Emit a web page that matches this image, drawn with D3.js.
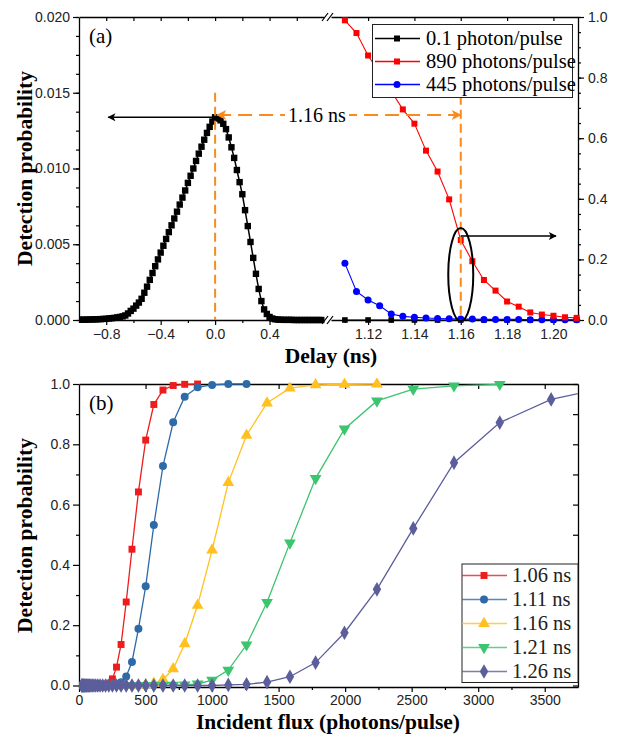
<!DOCTYPE html>
<html><head><meta charset="utf-8">
<script src="https://cdn.jsdelivr.net/npm/d3@7"></script>
<style>
body{margin:0;background:#fff;}
svg{display:block;}
.tick text{font-family:"Liberation Sans",Arial,sans-serif;font-size:14px;fill:#222;}
.domain{stroke:#000;stroke-width:1.3px;}
.tick line{stroke:#000;stroke-width:1.2px;}
</style>
</head><body>
<svg id="c" width="621" height="734"></svg>
<script>
// ---------- Panel (a) data ----------
const delayLeft = [-1.00,-0.98,-0.96,-0.94,-0.92,-0.90,-0.88,-0.86,-0.84,-0.82,-0.80,-0.78,-0.76,-0.74,-0.72,-0.70,-0.68,-0.66,-0.64,-0.62,-0.60,-0.58,-0.56,-0.54,-0.52,-0.50,-0.48,-0.46,-0.44,-0.42,-0.40,-0.38,-0.36,-0.34,-0.32,-0.30,-0.28,-0.26,-0.24,-0.22,-0.20,-0.18,-0.16,-0.14,-0.12,-0.10,-0.08,-0.06,-0.04,-0.02,0.00,0.02,0.04,0.06,0.08,0.10,0.12,0.14,0.16,0.18,0.20,0.22,0.24,0.26,0.28,0.30,0.32,0.34,0.36,0.38,0.40,0.42,0.44,0.46,0.48,0.50,0.52,0.54,0.56,0.58,0.60,0.62,0.64,0.66,0.68,0.70,0.72,0.74,0.76,0.78];
const probSingle = [0.00002,0.00002,0.00002,0.00003,0.00003,0.00004,0.00004,0.00005,0.00006,0.00007,0.00008,0.00010,0.00012,0.00014,0.00017,0.00020,0.00024,0.00030,0.00043,0.00060,0.00075,0.00095,0.00115,0.00140,0.00180,0.00220,0.00265,0.00310,0.00355,0.00400,0.00445,0.00490,0.00535,0.00580,0.00625,0.00670,0.00715,0.00762,0.00808,0.00855,0.00905,0.00952,0.01000,0.01050,0.01098,0.01144,0.01190,0.01235,0.01275,0.01310,0.01338,0.01330,0.01318,0.01295,0.01260,0.01205,0.01140,0.01070,0.00990,0.00910,0.00830,0.00725,0.00620,0.00515,0.00410,0.00305,0.00205,0.00125,0.00070,0.00040,0.00020,0.00010,0.00005,0.00003,0.00002,0.00001,0.00001,0.00001,0.00001,0,0,0,0,0,0,0,0,0,0,0];
const delayRightSingle = [1.11,1.12,1.13,1.14,1.15,1.16,1.17,1.18,1.19,1.20,1.21];
const probSingleRight = [0,0,0,0,0,0,0,0,0,0,0];
const delayRight = [1.110,1.115,1.120,1.125,1.130,1.135,1.140,1.145,1.150,1.155,1.160,1.165,1.170,1.175,1.180,1.185,1.190,1.195,1.200,1.205,1.210];
const prob890 = [0.989,0.947,0.873,0.815,0.755,0.695,0.648,0.559,0.490,0.398,0.264,0.194,0.132,0.097,0.061,0.044,0.025,0.018,0.014,0.009,0.007];
const prob445 = [0.187,0.094,0.066,0.047,0.020,0.012,0.009,0.0066,0.005,0.004,0.003,0.003,0.002,0.002,0.002,0.002,0.001,0.001,0.001,0.001,0.001];
const legendA = ["0.1 photon/pulse","890 photons/pulse","445 photons/pulse"];
const ticksLeftX = [-0.8,-0.4,0.0,0.4];
const ticksRightX = [1.12,1.14,1.16,1.18,1.20];

// ---------- Panel (b) data ----------
const flux = [20.0,22.4,25.1,28.2,31.6,35.5,39.8,44.7,50.1,56.2,63.1,70.8,79.4,89.1,100,112.2,125.9,141.3,158.5,177.8,199.5,223.9,251.2,281.8,316.2,354.8,398.1,446.7,501.2,562.3,631.0,707.9,794.3,891.3,1000,1122,1259,1413,1585,1778,1995,2239,2512,2818,3162,3548,3981];
const p106 = [0,0,0,0,0,0,0,0,0,0,0,0,0,0,0,0,0,0,0,0.001,0.003,0.008,0.022,0.061,0.136,0.277,0.452,0.642,0.814,0.932,0.980,0.995,0.999,1.000];
const p111 = [0,0,0,0,0,0,0,0,0,0,0,0,0,0,0,0,0,0,0,0,0,0.001,0.002,0.005,0.011,0.030,0.078,0.188,0.329,0.532,0.728,0.873,0.958,0.989,0.997,1.000,1.000];
const p116 = [0,0,0,0,0,0,0,0,0,0,0,0,0,0,0,0,0,0,0,0,0,0,0,0,0,0,0,0.001,0.003,0.007,0.020,0.055,0.138,0.266,0.449,0.673,0.830,0.937,0.986,0.997,0.999,1.000];
const p121 = [0,0,0,0,0,0,0,0,0,0,0,0,0,0,0,0,0,0,0,0,0,0,0,0,0,0,0,0,0,0,0,0.001,0.002,0.005,0.018,0.051,0.135,0.276,0.473,0.687,0.851,0.944,0.983,0.994,0.999];
const p126 = [0,0,0,0,0,0,0,0,0,0,0,0,0,0,0,0,0,0,0,0,0,0,0,0,0,0,0,0,0,0,0,0,0,0,0.000,0.002,0.004,0.011,0.029,0.076,0.175,0.319,0.521,0.739,0.872,0.949,0.990];
const legendB = ["1.06 ns","1.11 ns","1.16 ns","1.21 ns","1.26 ns"];
const colorsB = ["#ee1c1c","#2f6aa8","#ffc020","#3cc46e","#5c5e9c"];
const symbolsB = [d3.symbolSquare, d3.symbolCircle, d3.symbolTriangle, "tri-down", d3.symbolDiamond];

const svg = d3.select("#c");
const serif = '"Liberation Serif","Times New Roman",serif';
const titleSize = "21.5px";
const legSize = "20.5px";

function sym(type, size){
  if(type==="tri-down") return d3.symbol(d3.symbolTriangle,size)();
  return d3.symbol(type,size)();
}
function drawMarker(g, type, x, y, size, color){
  return g.append("path").attr("d", sym(type,size)).attr("fill",color)
    .attr("transform", `translate(${x},${y})` + (type==="tri-down"?" rotate(180)":""));
}

// ======================= PANEL A =======================
const A = {top:17, bottom:320, left:79, right:578, brkL:324, brkR:331};
const x1 = d3.scaleLinear().domain([-1.0,0.8]).range([A.left,A.brkL]);
const x2 = d3.scaleLinear().domain([1.104,1.2106]).range([A.brkR,A.right]);
const yL = d3.scaleLinear().domain([0,0.020]).range([A.bottom,A.top]);
const yR = d3.scaleLinear().domain([0,1.0]).range([A.bottom,A.top]);

const gA = svg.append("g");
svg.append("defs").html(`
 <clipPath id="clipA1"><rect x="${A.left}" y="${A.top-5}" width="${A.brkL-A.left+3}" height="${A.bottom-A.top+10}"/></clipPath>
 <clipPath id="clipA2"><rect x="${A.brkR-3}" y="${A.top-5}" width="${A.right-A.brkR+6}" height="${A.bottom-A.top+10}"/></clipPath>
 <clipPath id="clipB"><rect x="79" y="378" width="499" height="315"/></clipPath>
 <marker id="ahBlack" viewBox="0 0 10 10" refX="9" refY="5" markerWidth="12" markerHeight="8" markerUnits="userSpaceOnUse" orient="auto"><path d="M0,0 L10,5 L0,10 L2.5,5 z" fill="#000"/></marker>
 <marker id="ahOrange" viewBox="0 0 10 10" refX="9" refY="5" markerWidth="14" markerHeight="10" markerUnits="userSpaceOnUse" orient="auto"><path d="M0,0 L10,5 L0,10 L2.5,5 z" fill="#f98b1c"/></marker>
 <marker id="ahOrangeS" viewBox="0 0 10 10" refX="1" refY="5" markerWidth="14" markerHeight="10" markerUnits="userSpaceOnUse" orient="auto"><path d="M10,0 L0,5 L10,10 L7.5,5 z" fill="#f98b1c"/></marker>
`);

// axes panel A
gA.append("g").attr("transform",`translate(0,${A.bottom})`)
  .call(d3.axisBottom(x1).tickValues([-1.0,-0.6,-0.2,0.2,0.6]).tickSize(3).tickFormat("")).select(".domain").remove();
gA.append("g").attr("transform",`translate(0,${A.bottom})`)
  .call(d3.axisBottom(x1).tickValues(ticksLeftX).tickSize(5).tickSizeOuter(0).tickPadding(4).tickFormat(d3.format(".1f")));
gA.append("g").attr("transform",`translate(0,${A.bottom})`)
  .call(d3.axisBottom(x2).tickValues([1.11,1.13,1.15,1.17,1.19,1.21].filter(v=>v<=1.2106)).tickSize(3).tickFormat("")).select(".domain").remove();
gA.append("g").attr("transform",`translate(0,${A.bottom})`)
  .call(d3.axisBottom(x2).tickValues(ticksRightX).tickSize(5).tickSizeOuter(0).tickPadding(4).tickFormat(d3.format(".2f")));
gA.append("g").attr("transform",`translate(0,${A.top})`)
  .call(d3.axisTop(x1).tickValues([-0.8,-0.6,-0.4,-0.2,0,0.2,0.4,0.6]).tickSize(-4).tickSizeOuter(0).tickFormat(""));
gA.append("g").attr("transform",`translate(0,${A.top})`)
  .call(d3.axisTop(x2).tickValues([1.12,1.14,1.16,1.18,1.20]).tickSize(-4).tickSizeOuter(0).tickFormat(""));
gA.append("g").attr("transform",`translate(${A.left},0)`)
  .call(d3.axisLeft(yL).tickValues(d3.range(0,17).map(i=>i*0.00125)).tickSize(3).tickFormat("")).select(".domain").remove();
gA.append("g").attr("transform",`translate(${A.left},0)`)
  .call(d3.axisLeft(yL).tickValues([0,0.005,0.010,0.015,0.020]).tickSize(6).tickSizeOuter(0).tickPadding(3).tickFormat(d3.format(".3f")));
gA.append("g").attr("transform",`translate(${A.right},0)`)
  .call(d3.axisRight(yR).tickValues(d3.range(0,21).map(i=>i*0.05)).tickSize(3).tickFormat("")).select(".domain").remove();
gA.append("g").attr("transform",`translate(${A.right},0)`)
  .call(d3.axisRight(yR).tickValues([0,0.2,0.4,0.6,0.8,1.0]).tickSize(6).tickSizeOuter(0).tickPadding(4).tickFormat(d3.format(".1f")));

// break marks
[A.bottom, A.top].forEach(yy=>{
  gA.append("rect").attr("x",A.brkL+0.7).attr("y",yy-2).attr("width",A.brkR-A.brkL-1.4).attr("height",4).attr("fill","#fff");
  [A.brkL-2, A.brkR-4].forEach(xx=>{
    gA.append("line").attr("x1",xx).attr("y1",yy+4).attr("x2",xx+6).attr("y2",yy-4)
      .attr("stroke","#000").attr("stroke-width",1.2);
  });
});

// data - black left
const lineL = d3.line().x((d,i)=>x1(delayLeft[i])).y(d=>yL(d));
const gA1 = gA.append("g").attr("clip-path","url(#clipA1)");
gA1.append("path").datum(probSingle).attr("d",lineL).attr("fill","none").attr("stroke","#000").attr("stroke-width",1.5);
gA1.selectAll("rect.s").data(probSingle).enter().append("rect")
  .attr("x",(d,i)=>x1(delayLeft[i])-3.2).attr("y",d=>yL(d)-3.2).attr("width",6.4).attr("height",6.4).attr("fill","#000");

const gA2 = gA.append("g").attr("clip-path","url(#clipA2)");
gA2.append("path").datum(probSingleRight).attr("d",d3.line().x((d,i)=>x2(delayRightSingle[i])).y(d=>yL(d)))
  .attr("fill","none").attr("stroke","#000").attr("stroke-width",1.2);
gA2.selectAll("rect.sr").data(probSingleRight).enter().append("rect")
  .attr("x",(d,i)=>x2(delayRightSingle[i])-2.8).attr("y",d=>yL(d)-2.8).attr("width",5.6).attr("height",5.6).attr("fill","#000");
const lineR = d3.line().x((d,i)=>x2(delayRight[i])).y(d=>yR(d));
gA2.append("path").datum(prob445).attr("d",lineR).attr("fill","none").attr("stroke","#0000ff").attr("stroke-width",1.1);
gA2.selectAll("circle.b").data(prob445).enter().append("circle")
  .attr("cx",(d,i)=>x2(delayRight[i])).attr("cy",d=>yR(d)).attr("r",3.5).attr("fill","#0000ff");
gA2.append("path").datum(prob890).attr("d",lineR).attr("fill","none").attr("stroke","#ff0000").attr("stroke-width",1.1);
gA2.selectAll("rect.r").data(prob890).enter().append("rect")
  .attr("x",(d,i)=>x2(delayRight[i])-3).attr("y",d=>yR(d)-3).attr("width",6).attr("height",6).attr("fill","#ff0000");

// annotations panel A
const orange = "#f98b1c";
gA.append("line").attr("x1",x1(0)).attr("x2",x1(0)).attr("y1",yL(0.0150)).attr("y2",A.bottom)
  .attr("stroke",orange).attr("stroke-width",2).attr("stroke-dasharray","9,5");
gA.append("line").attr("x1",x2(1.16)).attr("x2",x2(1.16)).attr("y1",yR(0.74)).attr("y2",A.bottom)
  .attr("stroke",orange).attr("stroke-width",2).attr("stroke-dasharray","9,5");
gA.append("line").attr("x1",x1(0)+2).attr("x2",x2(1.16)).attr("y1",yL(0.01353)).attr("y2",yL(0.01353))
  .attr("stroke",orange).attr("stroke-width",2).attr("stroke-dasharray","14,7")
  .attr("marker-end","url(#ahOrange)").attr("marker-start","url(#ahOrangeS)");
gA.append("rect").attr("x",285).attr("y",yL(0.01353)-10).attr("width",64).attr("height",20).attr("fill","#fff");
gA.append("text").attr("x",317).attr("y",yL(0.01353)).attr("dy","0.35em").attr("text-anchor","middle")
  .style("font-family",serif).style("font-size","20px").text("1.16 ns");
gA.append("line").attr("x1",x1(0)).attr("x2",x1(-0.785)).attr("y1",yL(0.01338)).attr("y2",yL(0.01338))
  .attr("stroke","#000").attr("stroke-width",1.6).attr("marker-end","url(#ahBlack)");
gA.append("line").attr("x1",x2(1.16)).attr("x2",556).attr("y1",yR(0.277)).attr("y2",yR(0.277))
  .attr("stroke","#000").attr("stroke-width",1.6).attr("marker-end","url(#ahBlack)");
gA.append("ellipse").attr("cx",x2(1.16)).attr("cy",yR(0.15)).attr("rx",12.5).attr("ry",46.5)
  .attr("fill","none").attr("stroke","#000").attr("stroke-width",2);

// legend A
const legA = gA.append("g");
legA.append("rect").attr("x",372.5).attr("y",24.5).attr("width",200).attr("height",73).attr("fill","#fff").attr("stroke","#222").attr("stroke-width",1);
const legAcol = ["#000","#ff0000","#0000ff"];
legendA.forEach((t,i)=>{
  const yy = 38.5 + i*23;
  legA.append("line").attr("x1",375).attr("x2",420).attr("y1",yy).attr("y2",yy).attr("stroke",legAcol[i]).attr("stroke-width",1.3);
  if(i<2) legA.append("rect").attr("x",394).attr("y",yy-3).attr("width",6).attr("height",6).attr("fill",legAcol[i]);
  else legA.append("circle").attr("cx",397).attr("cy",yy).attr("r",3.5).attr("fill",legAcol[i]);
  legA.append("text").attr("x",426).attr("y",yy).attr("dy","0.33em").style("font-family",serif).style("font-size",legSize).text(t);
});
gA.append("text").attr("x",89).attr("y",36).attr("dy","0.35em").style("font-family",serif).style("font-size","21px").text("(a)");
gA.append("text").attr("transform",`translate(24,${(A.top+A.bottom)/2}) rotate(-90)`).attr("text-anchor","middle").attr("dy","0.35em")
  .style("font-family",serif).style("font-size",titleSize).style("font-weight","bold").text("Detection probability");
gA.append("text").attr("x",331).attr("y",355).attr("text-anchor","middle").attr("dy","0.35em")
  .style("font-family",serif).style("font-size",titleSize).style("font-weight","bold").text("Delay (ns)");

// ======================= PANEL B =======================
const B = {top:384, bottom:687, left:79, right:578};
const xb = d3.scaleLinear().domain([0,3750]).range([B.left,B.right]);
const yb = d3.scaleLinear().domain([-0.005,1.0]).range([B.bottom,B.top]);
const gB = svg.append("g");
gB.append("g").attr("transform",`translate(0,${B.bottom})`)
  .call(d3.axisBottom(xb).tickValues(d3.range(250,3750,500)).tickSize(3).tickFormat("")).select(".domain").remove();
gB.append("g").attr("transform",`translate(0,${B.bottom})`)
  .call(d3.axisBottom(xb).tickValues(d3.range(0,3501,500)).tickSize(5).tickSizeOuter(0).tickPadding(3).tickFormat(d3.format("d")));
gB.append("g").attr("transform",`translate(0,${B.top})`)
  .call(d3.axisTop(xb).tickValues(d3.range(500,3501,500)).tickSize(-5).tickSizeOuter(0).tickFormat(""));
gB.append("g").attr("transform",`translate(${B.left},0)`)
  .call(d3.axisLeft(yb).tickValues([0.1,0.3,0.5,0.7,0.9]).tickSize(3).tickFormat("")).select(".domain").remove();
gB.append("g").attr("transform",`translate(${B.left},0)`)
  .call(d3.axisLeft(yb).tickValues([0,0.2,0.4,0.6,0.8,1.0]).tickSize(6).tickSizeOuter(0).tickPadding(3).tickFormat(d3.format(".1f")));
gB.append("g").attr("transform",`translate(${B.right},0)`)
  .call(d3.axisRight(yb).tickValues([0,0.1,0.2,0.3,0.4,0.5,0.6,0.7,0.8,0.9,1.0]).tickSize(-5).tickSizeOuter(0).tickFormat(""));

const seriesB = [p106,p111,p116,p121,p126];
const gBd = gB.append("g").attr("clip-path","url(#clipB)");
const markerSizes = [48,50,60,60,62];
seriesB.forEach((vals,si)=>{
  const pts = vals.map((v,i)=>[flux[i],v]);
  gBd.append("path").datum(pts).attr("d",d3.line().x(d=>xb(d[0])).y(d=>yb(d[1])))
    .attr("fill","none").attr("stroke",colorsB[si]).attr("stroke-width",1.3);
});
seriesB.forEach((vals,si)=>{
  vals.forEach((v,i)=>{
    if(flux[i]<=3760) drawMarker(gBd, symbolsB[si], xb(flux[i]), yb(v), markerSizes[si], colorsB[si]);
  });
});
const legB = gB.append("g");
legB.append("rect").attr("x",462).attr("y",564).attr("width",116).attr("height",118.5).attr("fill","#fff").attr("stroke","#222").attr("stroke-width",1);
legendB.forEach((t,i)=>{
  const yy = 575.5 + i*24;
  legB.append("line").attr("x1",462).attr("x2",507).attr("y1",yy).attr("y2",yy).attr("stroke",colorsB[i]).attr("stroke-width",1.6).attr("opacity",0.8);
  drawMarker(legB, symbolsB[i], 484, yy, markerSizes[i], colorsB[i]);
  legB.append("text").attr("x",512).attr("y",yy).attr("dy","0.33em").style("font-family",serif).style("font-size",legSize).style("fill","#222").text(t);
});
gB.append("text").attr("x",89).attr("y",403).attr("dy","0.35em").style("font-family",serif).style("font-size","21px").text("(b)");
gB.append("text").attr("transform",`translate(24,${(B.top+B.bottom)/2}) rotate(-90)`).attr("text-anchor","middle").attr("dy","0.35em")
  .style("font-family",serif).style("font-size",titleSize).style("font-weight","bold").text("Detection probability");
gB.append("text").attr("x",328).attr("y",721).attr("text-anchor","middle").attr("dy","0.35em")
  .style("font-family",serif).style("font-size",titleSize).style("font-weight","bold").text("Incident flux (photons/pulse)");
</script>
</body></html>
